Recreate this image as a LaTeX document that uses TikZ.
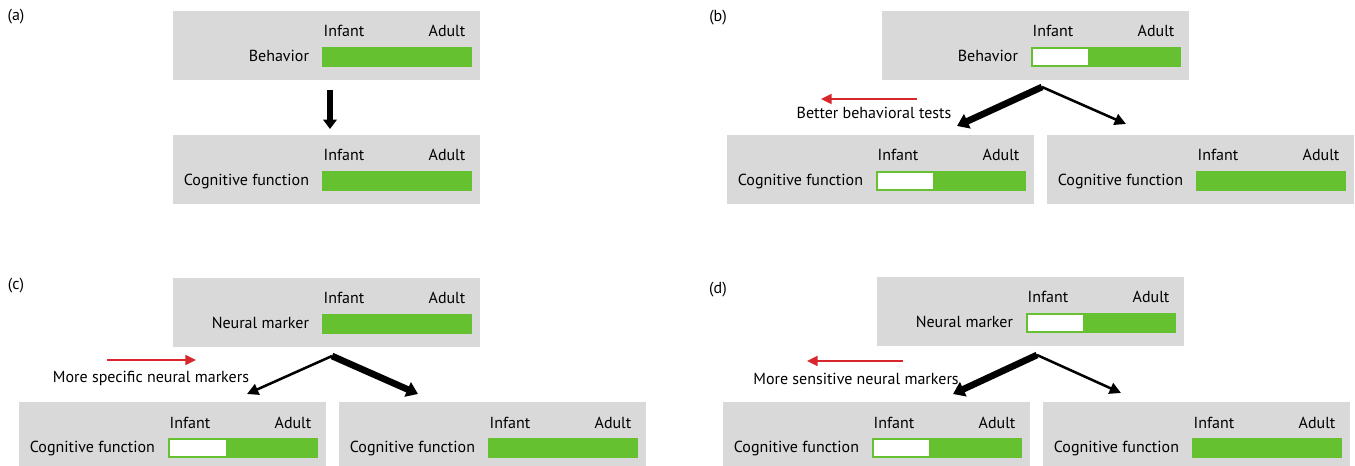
\documentclass[tikz,border=0pt]{standalone}
\usepackage{fontspec}
\setmainfont{PT Sans}
\usetikzlibrary{arrows.meta,calc}
\definecolor{boxgray}{HTML}{D9D9D9}
\definecolor{bargreen}{HTML}{66C131}
\definecolor{arrred}{HTML}{D7262C}
\tikzset{
  graybox/.style={fill=boxgray, draw=none, anchor=north west, minimum width=230.25pt, minimum height=51.75pt, inner sep=0pt, outer sep=0pt},
  greenbar/.style={fill=bargreen, draw=none, anchor=north east, minimum width=112.5pt, minimum height=15pt, inner sep=0pt, outer sep=0pt},
  lbl/.style={font=\fontsize{12}{14}\selectfont, text=black, inner sep=0pt, outer sep=0pt},
  thickarrow/.style={line width=5pt, -{Triangle[length=8.5pt,width=11.5pt]}},
  thinarrow/.style={line width=1.9pt, -{Triangle[length=8.5pt,width=8.5pt]}},
  redarrow/.style={draw=arrred, line width=1.6pt, -{Triangle[length=8pt,width=7.5pt]}},
}
\newcommand\cbox[5]{%
  \node[graybox] (#1) at (#2,#3) {};
  \node[greenbar] (#1-bar) at ([xshift=-6pt,yshift=-27pt]#1.north east) {};
  \ifnum#5>0
    \fill[white] ([xshift=1.2pt,yshift=-1.2pt]#1-bar.north west) rectangle ([xshift={#5*0.75pt},yshift=1.2pt]#1-bar.south west);
  \fi
  \node[lbl, anchor=base east] (#1-lbl) at ([xshift=-9.75pt,yshift=4pt]#1-bar.south west) {#4};
  \node[lbl, anchor=base] (#1-inf) at ([xshift=16.5pt,yshift=7.5pt]#1-bar.north west) {Infant};
  \node[lbl, anchor=base east] (#1-adu) at ([xshift=-5pt,yshift=7.5pt]#1-bar.north east) {Adult};
}
\begin{document}
\begin{tikzpicture}[x=0.75pt,y=-0.75pt]
\useasboundingbox (0,0) rectangle (1355,466);
% panel labels
\node[lbl] (la) at (16,17) {(a)};
\node[lbl] (lb) at (718,18) {(b)};
\node[lbl] (lc) at (16,286) {(c)};
\node[lbl] (ld) at (718,290) {(d)};
% (a)
\cbox{a1}{173}{11}{Behavior}{0}
\cbox{a2}{173}{135}{Cognitive function}{0}
\coordinate (a-s) at (330,90);
\coordinate (a-e) at (330,129);
\draw[line width=4.8pt, -{Triangle[length=7pt,width=10pt]}] (a-s) -- (a-e);
% (b)
\cbox{b1}{882}{11}{Behavior}{57}
\cbox{b2}{727}{135}{Cognitive function}{57}
\cbox{b3}{1047}{135}{Cognitive function}{0}
\coordinate (b-apex) at (1042,87);
\coordinate (b-l) at (957,126);
\coordinate (b-r) at (1126,124);
\draw[thinarrow] (b-apex) -- (b-r);
\draw[thickarrow] (b-apex) -- (b-l);
\coordinate (b-r1) at (917,99);
\coordinate (b-r2) at (821,99);
\draw[redarrow] (b-r1) -- (b-r2);
\node[lbl] (b-txt) at (874,113) {Better behavioral tests};
% (c)
\cbox{c1}{173}{278}{Neural marker}{0}
\cbox{c2}{19}{402}{Cognitive function}{58}
\cbox{c3}{339}{402}{Cognitive function}{0}
\coordinate (c-apex) at (332,356);
\coordinate (c-l) at (247,394);
\coordinate (c-r) at (418,394);
\draw[thinarrow] (c-apex) -- (c-l);
\draw[thickarrow] (c-apex) -- (c-r);
\coordinate (c-r1) at (107,360);
\coordinate (c-r2) at (196,360);
\draw[redarrow] (c-r1) -- (c-r2);
\node[lbl] (c-txt) at (151,378) {More specific neural markers};
% (d)
\cbox{d1}{877}{277}{Neural marker}{57}
\cbox{d2}{723}{402}{Cognitive function}{57}
\cbox{d3}{1043}{402}{Cognitive function}{0}
\coordinate (d-apex) at (1037,355);
\coordinate (d-l) at (953,394);
\coordinate (d-r) at (1121,393);
\draw[thinarrow] (d-apex) -- (d-r);
\draw[thickarrow] (d-apex) -- (d-l);
\coordinate (d-r1) at (903,361);
\coordinate (d-r2) at (807,361);
\draw[redarrow] (d-r1) -- (d-r2);
\node[lbl] (d-txt) at (856,379) {More sensitive neural markers};
\end{tikzpicture}
\end{document}
